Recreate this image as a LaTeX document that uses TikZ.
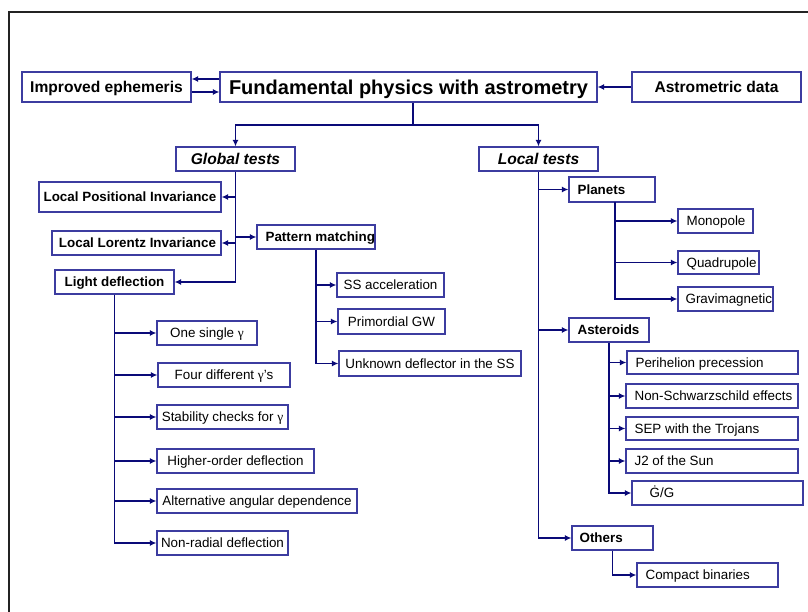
\documentclass[tikz,border=0pt]{standalone}
\usepackage{fontspec}
\setmainfont{Liberation Sans}
\newfontfamily\gfont{Liberation Serif}
\usetikzlibrary{arrows.meta,fit}
\definecolor{boxc}{RGB}{60,60,160}
\definecolor{linec}{RGB}{10,10,120}
\definecolor{framec}{RGB}{35,35,35}
\newcommand\ftitle{\fontsize{20}{24}\selectfont\bfseries}
\newcommand\ftop{\fontsize{15.6}{18}\selectfont\bfseries}
\newcommand\fmid{\fontsize{13.4}{16}\selectfont\bfseries}
\newcommand\fleaf{\fontsize{13.4}{16}\selectfont}
\begin{document}
\begin{tikzpicture}[x=1pt,y=-1pt,
  bx/.style={draw=boxc, line width=1.2pt, inner sep=0pt, fit={#1}},
  tx/.style={anchor=base west, inner sep=0pt, yshift=-4.8pt},
  cx/.style={anchor=base, inner sep=0pt, yshift=-4.8pt},
  cxt/.style={anchor=base, inner sep=0pt, yshift=-5.6pt},
  cxx/.style={anchor=base, inner sep=0pt, yshift=-7.2pt},
  ln/.style={draw=linec, line width=1.2pt},
  arr/.style={draw=linec, line width=1.2pt, -{Latex[length=6.5pt,width=6pt]}}]
\useasboundingbox (0,0) rectangle (808,612);
\draw[framec, line width=1.5pt] (9,612) -- (9,12) -- (808,12);

% top row
\node[bx={(220,72)(597,102)}] (fund) {};
\node[cxx, font=\ftitle] (fund-t) at (fund.center) {Fundamental physics with astrometry};
\node[bx={(22,72)(191,102)}] (imp) {};
\node[cxt, font=\ftop] (imp-t) at (imp.center) {Improved ephemeris};
\node[bx={(632,72)(801,102)}] (ast) {};
\node[cxt, font=\ftop] (ast-t) at (ast.center) {Astrometric data};
\draw[arr] (fund.west |- 0,79) -- (imp.east |- 0,79);
\draw[arr] (imp.east |- 0,92) -- (fund.west |- 0,92);
\draw[arr] (ast.west) -- (fund.east);

% second level
\node[bx={(176,147)(295,171)}] (glob) {};
\node[cxt, font=\ftop\itshape] (glob-t) at (glob.center) {Global tests};
\node[bx={(479,147)(598,171)}] (loc) {};
\node[cxt, font=\ftop\itshape] (loc-t) at (loc.center) {Local tests};
\coordinate (j1) at (413,125);
\draw[ln] (fund.south -| j1) -- (j1);
\draw[arr] (j1) -| (glob.north);
\draw[arr] (j1) -| (loc.north);

% global tests
\node[bx={(39,182)(221,212)}] (lpi) {};
\node[cx, font=\fmid] (lpi-t) at (lpi.center) {Local Positional Invariance};
\node[bx={(52,231)(221,255)}] (lli) {};
\node[cx, font=\fmid] (lli-t) at ([xshift=1pt]lli.center) {Local Lorentz Invariance};
\node[bx={(55,270)(174,294)}] (ld) {};
\node[cx, font=\fmid] (ld-t) at (ld.center) {Light deflection};
\node[bx={(257,225)(375,249)}] (pm) {};
\node[tx, font=\fmid] (pm-t) at ([xshift=9pt]pm.west) {Pattern matching};
\draw[arr] (glob.south) |- (ld.east);
\draw[arr] (glob.south |- lpi.east) -- (lpi.east);
\draw[arr] (glob.south |- lli.east) -- (lli.east);
\draw[arr] (glob.south |- pm.west) -- (pm.west);

% light deflection
\node[bx={(157,321)(257,345)}] (g1) {};
\node[cx, font=\fleaf] (g1-t) at (g1.center) {One single {\gfont γ}};
\node[bx={(158,363)(290,387)}] (g2) {};
\node[cx, font=\fleaf] (g2-t) at (g2.center) {Four different {\gfont γ}'s};
\node[bx={(157,405)(288,429)}] (g3) {};
\node[cx, font=\fleaf] (g3-t) at (g3.center) {Stability checks for {\gfont γ}};
\node[bx={(157,449)(314,473)}] (g4) {};
\node[cx, font=\fleaf] (g4-t) at (g4.center) {Higher-order deflection};
\node[bx={(157,489)(357,513)}] (g5) {};
\node[cx, font=\fleaf] (g5-t) at (g5.center) {Alternative angular dependence};
\node[bx={(157,531)(288,555)}] (g6) {};
\node[cx, font=\fleaf] (g6-t) at (g6.center) {Non-radial deflection};
\draw[arr] (ld.south) |- (g6.west);
\foreach \n in {g1,g2,g3,g4,g5} \draw[arr] (ld.south |- \n.west) -- (\n.west);

% pattern matching
\node[bx={(337,273)(444,297)}] (p1) {};
\node[cx, font=\fleaf] (p1-t) at (p1.center) {SS acceleration};
\node[bx={(338,309)(445,334)}] (p2) {};
\node[cx, font=\fleaf] (p2-t) at (p2.center) {Primordial GW};
\node[bx={(339,351)(521,376)}] (p3) {};
\node[cx, font=\fleaf] (p3-t) at (p3.center) {Unknown deflector in the SS};
\draw[arr] (pm.south) |- (p3.west);
\foreach \n in {p1,p2} \draw[arr] (pm.south |- \n.west) -- (\n.west);

% local tests
\node[bx={(569,177)(655,202)}] (pl) {};
\node[tx, font=\fmid] (pl-t) at ([xshift=9pt]pl.west) {Planets};
\node[bx={(569,318)(649,342)}] (as) {};
\node[tx, font=\fmid] (as-t) at ([xshift=9pt]as.west) {Asteroids};
\node[bx={(572,526)(653,550)}] (ot) {};
\node[tx, font=\fmid] (ot-t) at ([xshift=8pt]ot.west) {Others};
\draw[arr] (loc.south) |- (ot.west);
\draw[arr] (loc.south |- pl.west) -- (pl.west);
\draw[arr] (loc.south |- as.west) -- (as.west);

% planets
\node[bx={(678,209)(753,233)}] (m1) {};
\node[tx, font=\fleaf] (m1-t) at ([xshift=9pt]m1.west) {Monopole};
\node[bx={(678,251)(759,274)}] (m2) {};
\node[tx, font=\fleaf] (m2-t) at ([xshift=9pt]m2.west) {Quadrupole};
\node[bx={(678,287)(773,311)}] (m3) {};
\node[tx, font=\fleaf] (m3-t) at ([xshift=8pt]m3.west) {Gravimagnetic};
\coordinate (plb) at (615,202);
\draw[arr] (plb) |- (m3.west);
\foreach \n in {m1,m2} \draw[arr] (plb |- \n.west) -- (\n.west);

% asteroids
\node[bx={(627,351)(798,374)}] (a1) {};
\node[tx, font=\fleaf] (a1-t) at ([xshift=9pt]a1.west) {Perihelion precession};
\node[bx={(626,384)(798,408)}] (a2) {};
\node[tx, font=\fleaf] (a2-t) at ([xshift=9pt]a2.west) {Non-Schwarzschild effects};
\node[bx={(626,417)(798,440)}] (a3) {};
\node[tx, font=\fleaf] (a3-t) at ([xshift=9pt]a3.west) {SEP with the Trojans};
\node[bx={(626,449)(798,473)}] (a4) {};
\node[tx, font=\fleaf] (a4-t) at ([xshift=9pt]a4.west) {J2 of the Sun};
\node[bx={(632,481)(803,505)}] (a5) {};
\node[tx, font=\fleaf] (a5-t) at ([xshift=18pt]a5.west) {Ġ/G};
\draw[arr] (as.south) |- (a5.west);
\foreach \n in {a1,a2,a3,a4} \draw[arr] (as.south |- \n.west) -- (\n.west);

% others
\node[bx={(637,563)(778,587)}] (c1) {};
\node[tx, font=\fleaf] (c1-t) at ([xshift=9pt]c1.west) {Compact binaries};
\draw[arr] (ot.south) |- (c1.west);
\end{tikzpicture}
\end{document}
